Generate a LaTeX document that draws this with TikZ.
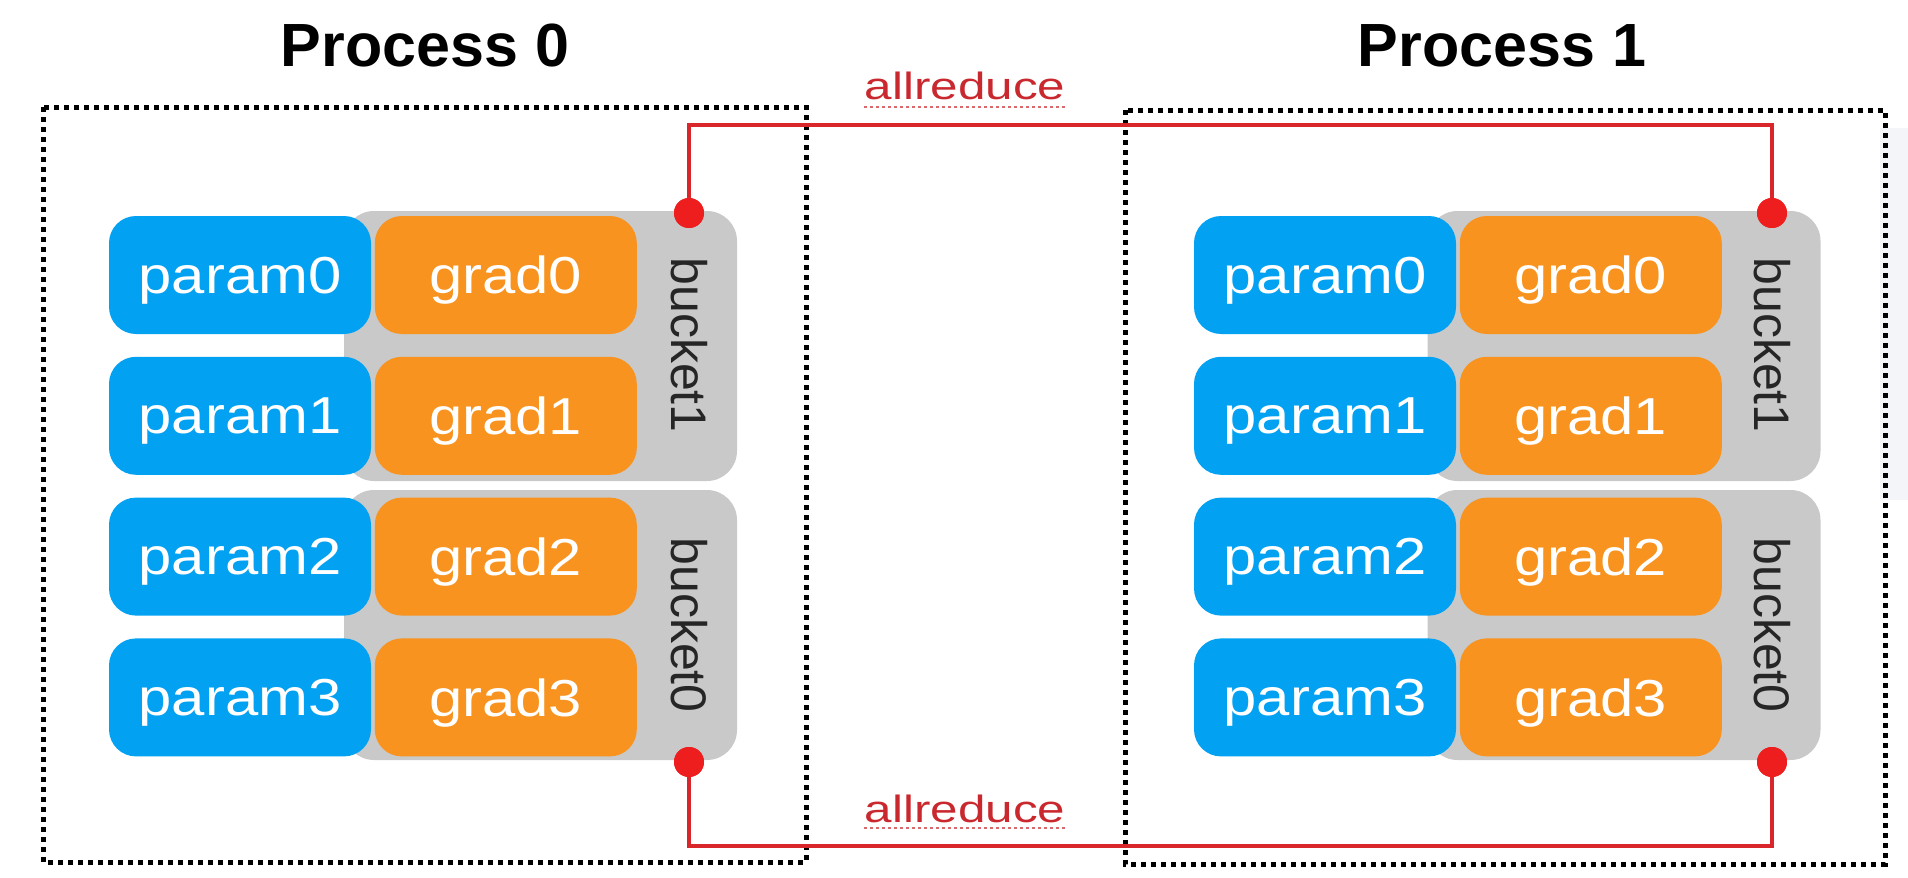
\documentclass[tikz,border=0pt]{standalone}
\usepackage{fontspec}
\setmainfont{Liberation Sans}
\newfontfamily\widefont[FakeStretch=1.15]{Liberation Sans}
\newfontfamily\widerfont[FakeStretch=1.3]{Liberation Sans}
\usetikzlibrary{positioning}

\definecolor{parblue}{HTML}{03A1F1}
\definecolor{gradorange}{HTML}{F7931E}
\definecolor{bucketgray}{HTML}{C9C9C9}
\definecolor{wirered}{HTML}{D8262A}
\definecolor{jointred}{HTML}{EE1E1E}
\definecolor{labelred}{HTML}{C9292E}
\definecolor{panelgray}{HTML}{F4F5F8}

\begin{document}
\begin{tikzpicture}[x=0.5pt,y=-0.5pt,
		param/.style={fill=parblue,rounded corners=13.5pt,minimum width=131pt,minimum height=59pt,inner sep=0pt,text depth=0pt,text=white,font=\widefont\fontsize{26}{26}\selectfont},
		grad/.style={param,fill=gradorange},
		bucket/.style={fill=bucketgray,rounded corners=15pt,minimum width=196.5pt,minimum height=135pt,inner sep=0pt},
		bucketlbl/.style={rotate=-90,text=black!85,inner sep=0pt,font=\fontsize{25}{25}\selectfont},
		procname/.style={anchor=base,inner sep=0pt,font=\bfseries\fontsize{30.5}{30.5}\selectfont},
		procbox/.style={line width=2.5pt,dash pattern=on 2.5pt off 2.5pt},
		wire/.style={draw=wirered,line width=1.6pt},
		joint/.style={circle,fill=jointred,minimum size=15pt,inner sep=0pt},
		redlbl/.style={anchor=base,inner sep=0pt,text=labelred,font=\widerfont\fontsize{19}{19}\selectfont}]
				\useasboundingbox (0,0) rectangle (1908,878);
				\fill[panelgray] (1880,128) rectangle (1908,500);

				\draw[procbox] (43,107) rectangle (806,862);
				\draw[procbox] (1125,110) rectangle (1885,864);

				\node[procname] (titleA) at (425,66) {Process 0};
				\node[procname] (titleB) at (1502,66) {Process 1};

				% process 0
				\node[bucket] (bucket1A) at (540.5,346) {};
				\node[bucket] (bucket0A) at (540.5,625) {};
				\node[param] (param0A) at (240,275) {param0};
				\node[param] (param1A) [below=11pt of param0A] {param1};
				\node[param] (param2A) [below=11pt of param1A] {param2};
				\node[param] (param3A) [below=11pt of param2A] {param3};
				\node[grad] (grad0A) [right=1.5pt of param0A] {grad0};
				\node[grad] (grad1A) [right=1.5pt of param1A] {grad1};
				\node[grad] (grad2A) [right=1.5pt of param2A] {grad2};
				\node[grad] (grad3A) [right=1.5pt of param3A] {grad3};
				\node[bucketlbl] (lbl1A) at (689,345) {bucket1};
				\node[bucketlbl] (lbl0A) at (689,625) {bucket0};

				% process 1
				\node[bucket] (bucket1B) at (1624,346) {};
				\node[bucket] (bucket0B) at (1624,625) {};
				\node[param] (param0B) at (1325,275) {param0};
				\node[param] (param1B) [below=11pt of param0B] {param1};
				\node[param] (param2B) [below=11pt of param1B] {param2};
				\node[param] (param3B) [below=11pt of param2B] {param3};
				\node[grad] (grad0B) [right=1.5pt of param0B] {grad0};
				\node[grad] (grad1B) [right=1.5pt of param1B] {grad1};
				\node[grad] (grad2B) [right=1.5pt of param2B] {grad2};
				\node[grad] (grad3B) [right=1.5pt of param3B] {grad3};
				\node[bucketlbl] (lbl1B) at (1772,345) {bucket1};
				\node[bucketlbl] (lbl0B) at (1772,625) {bucket0};

				% allreduce links
				\node[joint] (topA) at (689,213) {};
				\node[joint] (topB) at (1772,213) {};
				\node[joint] (botA) at (689,762) {};
				\node[joint] (botB) at (1772,762) {};
				\coordinate (upper) at (689,125);
				\coordinate (lower) at (689,846);

				\draw[wire] (topA.center) -- (upper) -| (topB.center);
				\draw[wire] (botA.center) -- (lower) -| (botB.center);
				\fill[jointred] (topA) circle (7.5pt) (topB) circle (7.5pt) (botA) circle (7.5pt) (botB) circle (7.5pt);

				\node[redlbl] (reduceT) at (965,99) {allreduce};
				\node[redlbl] (reduceB) at (965,822) {allreduce};
				\draw[labelred!70,line width=1pt,dash pattern=on 1.5pt off 1.5pt]
				([yshift=-4pt]reduceT.base west) -- ([yshift=-4pt]reduceT.base east)
				([yshift=-3pt]reduceB.base west) -- ([yshift=-3pt]reduceB.base east);
			\end{tikzpicture}
\end{document}
